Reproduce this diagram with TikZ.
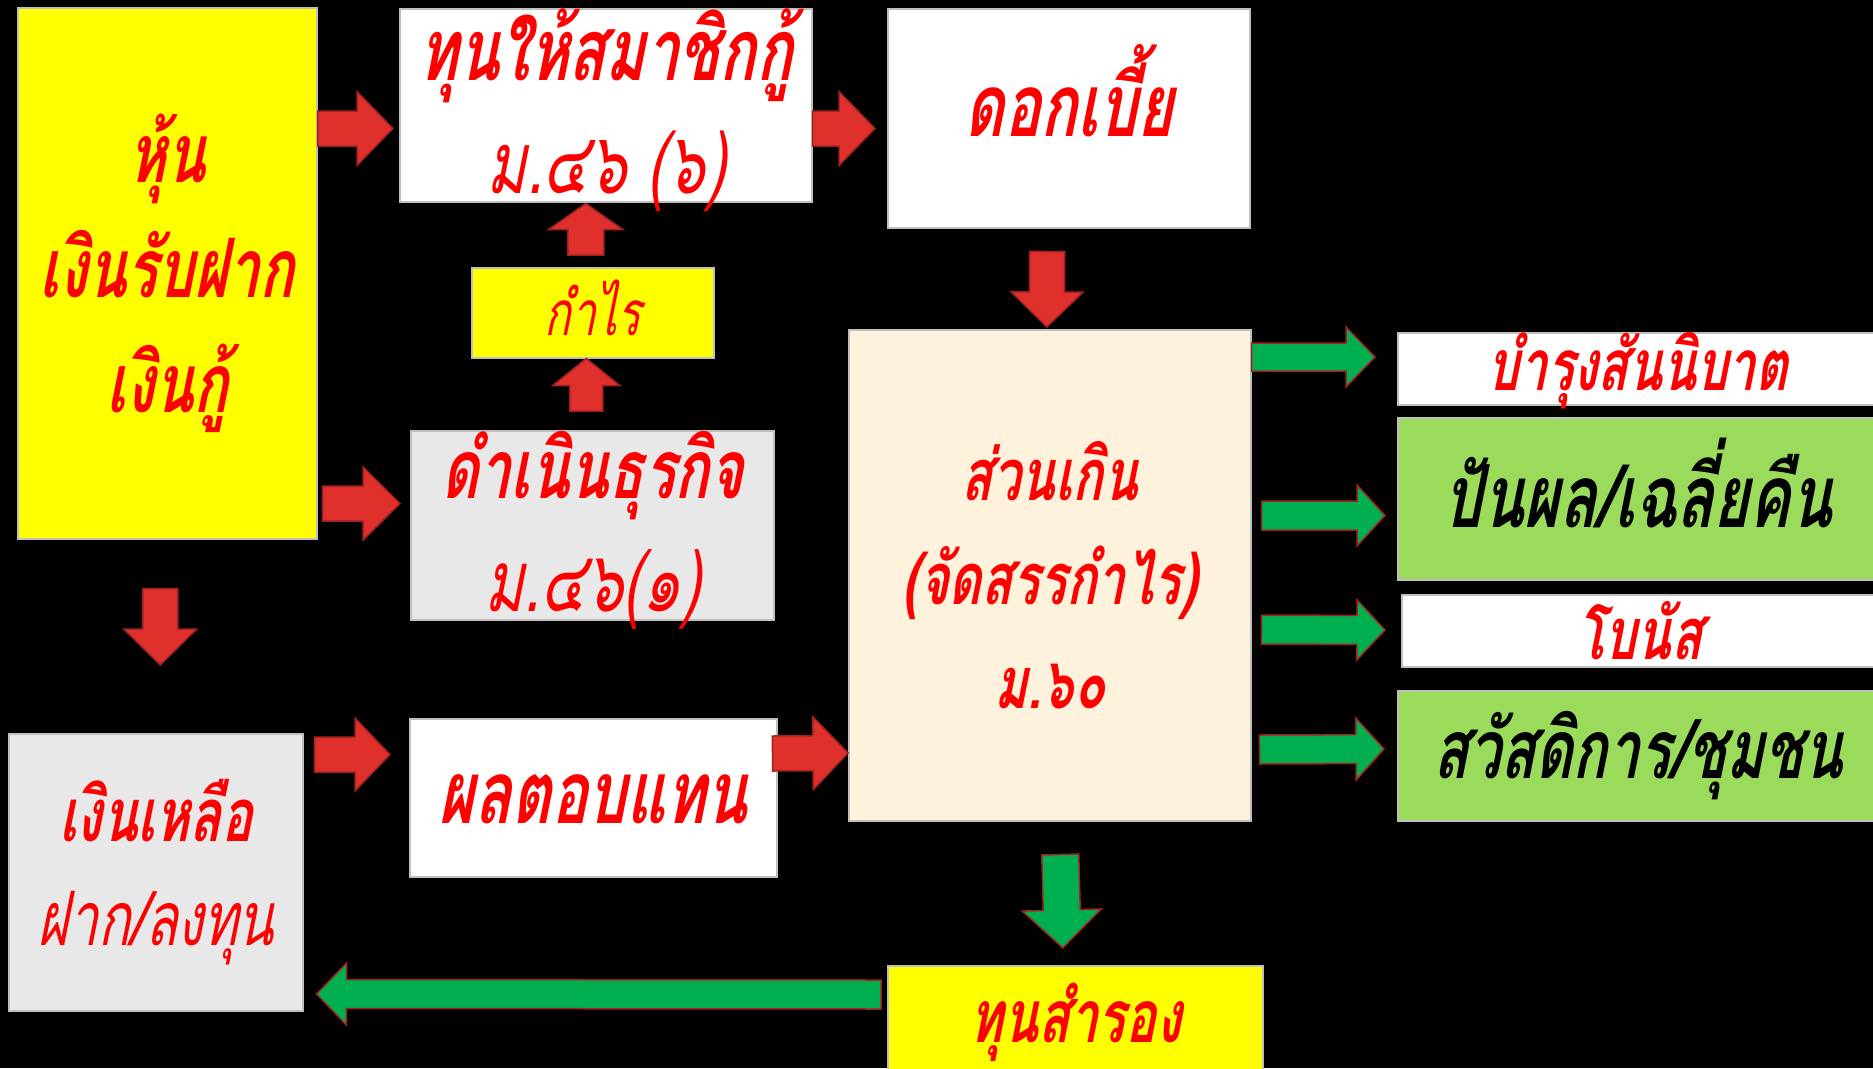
\documentclass[tikz,border=0pt]{standalone}
\usepackage{fontspec}
\usetikzlibrary{calc}
\newfontfamily\thai[Script=Thai,FakeStretch=0.70,FakeSlant=0.2]{Loma}
\definecolor{tred}{HTML}{FF0000}
\definecolor{afill}{HTML}{E0302C}
\definecolor{aline}{HTML}{A02222}
\definecolor{gfill}{HTML}{00B050}
\definecolor{boxgray}{HTML}{E8E8E8}
\definecolor{cream}{HTML}{FFF2DC}
\definecolor{lgreen}{HTML}{9BDB5B}
\definecolor{tyellow}{HTML}{FFFF00}
\newcommand\blockarr[6]{%
  \coordinate (tmphb) at ($(#3)!#6!(#2)$);
  \draw[#1] ($(#2)!#4!90:(#3)$) -- ($(tmphb)!#4!90:(#3)$) -- ($(tmphb)!#5!90:(#3)$) -- (#3)
    -- ($(tmphb)!#5!-90:(#3)$) -- ($(tmphb)!#4!-90:(#3)$) -- ($(#2)!#4!-90:(#3)$) -- cycle;}
\newcommand\fs[2]{\fontsize{#1}{#2}\selectfont}
\tikzset{
  box/.style={draw=black!25, line width=1.5pt, inner sep=0pt, anchor=north west},
  txt/.style={inner sep=0pt, align=center, text=tred},
  redarr/.style={fill=afill, draw=aline, line width=1.5pt, line join=miter},
  grnarr/.style={fill=gfill, draw=aline, line width=1.5pt, line join=miter},
}
\begin{document}
\begin{tikzpicture}[x=1pt,y=-1pt]
\fill[black] (0,0) rectangle (1873,1068);
\useasboundingbox (0,0) rectangle (1873,1068);
% boxes
\node[box, fill=tyellow, minimum width=299, minimum height=531] (A) at (17,7) {};
\node[box, fill=white, minimum width=412, minimum height=193] (B) at (399,8) {};
\node[box, fill=white, minimum width=362, minimum height=219] (C) at (887,8) {};
\node[box, fill=tyellow, minimum width=242, minimum height=90] (D) at (471,267) {};
\node[box, fill=boxgray, minimum width=363, minimum height=189] (E) at (410,430) {};
\node[box, fill=cream, minimum width=402, minimum height=491] (F) at (848,329) {};
\node[box, fill=boxgray, minimum width=294, minimum height=277] (G) at (8,733) {};
\node[box, fill=white, minimum width=367, minimum height=158] (H) at (409,718) {};
\node[box, fill=tyellow, minimum width=375, minimum height=110] (I) at (887,965) {};
\node[box, fill=white, minimum width=480, minimum height=72] (J1) at (1397,332) {};
\node[box, fill=lgreen, minimum width=480, minimum height=162] (J2) at (1397,417) {};
\node[box, fill=white, minimum width=476, minimum height=72] (J3) at (1401,594) {};
\node[box, fill=lgreen, minimum width=480, minimum height=130] (J4) at (1397,690) {};
% texts
\node[txt, font=\thai\bfseries\fs{82}{115}] (At) at (A.center) {หุ้น\\เงินรับฝาก\\เงินกู้};
\node[txt, font=\thai\fs{86}{113}] (Bt) at ($(B.center)+(0,5)$) {{\bfseries ทุนให้สมาชิกกู้}\\ม.๔๖ (๖)};
\node[txt, font=\thai\bfseries\fs{87}{100}] (Ct) at ($(C.center)+(0,-28)$) {ดอกเบี้ย};
\node[txt, font=\thai\fs{62}{70}] (Dt) at ($(D.center)+(0,-5)$) {กำไร};
\node[txt, font=\thai\fs{85}{113}] (Et) at ($(E.center)+(0,5)$) {{\bfseries\fs{82}{113}ดำเนินธุรกิจ}\\ม.๔๖(๑)};
\node[txt, font=\thai\bfseries\fs{72}{104}] (Ft) at (F.center) {ส่วนเกิน\\(จัดสรรกำไร)\\ม.๖๐};
\node[txt, font=\thai\fs{75}{104}] (Gt) at (G.center) {{\bfseries\fs{74}{104}เงินเหลือ}\\ฝาก/ลงทุน};
\node[txt, font=\thai\bfseries\fs{87}{100}] (Ht) at ($(H.center)+(0,2)$) {ผลตอบแทน};
\node[txt, font=\thai\bfseries\fs{73}{80}] (It) at ($(I.center)+(0,2)$) {ทุนสำรอง};
\node[txt, font=\thai\bfseries\fs{71}{80}] (J1t) at ($(J1.center)+(0,2)$) {บำรุงสันนิบาต};
\node[txt, font=\thai\bfseries\fs{87}{100}, text=black] (J2t) at ($(J2.center)+(0,-16)$) {ปันผล/เฉลี่ยคืน};
\node[txt, font=\thai\bfseries\fs{72}{80}] (J3t) at (J3.center) {โบนัส};
\node[txt, font=\thai\bfseries\fs{82}{100}, text=black] (J4t) at (J4.center) {สวัสดิการ/ชุมชน};
% arrow end points
\coordinate (ab1) at ($(A.north east)+(0,121.5)$);
\coordinate (ab2) at ($(B.north west)+(-6,120.5)$);
\coordinate (bc1) at ($(B.north east)+(0,120.5)$);
\coordinate (bc2) at ($(C.north west)+(-12,120.5)$);
\coordinate (ae1) at ($(A.north east)+(5,496.5)$);
\coordinate (ae2) at ($(E.north west)+(-10,73.5)$);
\coordinate (ed1) at ($(E.north)+(-6,-19)$);
\coordinate (ed2) at ($(D.south)+(-6.5,0)$);
\coordinate (db1) at ($(D.north)+(-7,-12)$);
\coordinate (db2) at ($(B.south)+(-20,1)$);
\coordinate (ag1) at ($(A.south)+(-7,49)$);
\coordinate (ag2) at ($(G.north)+(4.5,-68)$);
\coordinate (cf1) at ($(C.south)+(-21.5,23)$);
\coordinate (cf2) at ($(F.north)+(-3,-2)$);
\coordinate (gh1) at ($(G.north east)+(11,21.5)$);
\coordinate (gh2) at ($(H.north west)+(-19,36.5)$);
\coordinate (hf1) at ($(H.north east)+(-5,35.5)$);
\coordinate (hf2) at ($(F.north west)+(0,424)$);
\coordinate (fj11) at ($(F.north east)+(0,28)$);
\coordinate (fj12) at ($(J1.north west)+(-22,25)$);
\coordinate (fj21) at ($(F.north east)+(10,186.5)$);
\coordinate (fj22) at ($(J2.north west)+(-12,98.5)$);
\coordinate (fj31) at ($(F.north east)+(10,300.5)$);
\coordinate (fj32) at ($(J3.north west)+(-16,36)$);
\coordinate (fj41) at ($(F.north east)+(8,420.5)$);
\coordinate (fj42) at ($(J4.north west)+(-13,59)$);
\coordinate (fi1) at ($(F.south)+(10.5,33)$);
\coordinate (fi2) at ($(I.north)+(-12.5,-17)$);
\coordinate (ig1) at ($(I.north west)+(-6,29.5)$);
\coordinate (ig2) at ($(G.north east)+(13,261)$);
% arrows
\blockarr{redarr}{ab1}{ab2}{17.5pt}{37pt}{36pt}
\blockarr{redarr}{bc1}{bc2}{17.5pt}{37pt}{36pt}
\blockarr{redarr}{ae1}{ae2}{17.5pt}{36.5pt}{37pt}
\blockarr{redarr}{ed1}{ed2}{16.5pt}{33.5pt}{27pt}
\blockarr{redarr}{db1}{db2}{18pt}{37pt}{26pt}
\blockarr{redarr}{ag1}{ag2}{17.5pt}{36.5pt}{36pt}
\blockarr{redarr}{cf1}{cf2}{17.5pt}{36pt}{35pt}
\blockarr{redarr}{gh1}{gh2}{17.5pt}{36.5pt}{35pt}
\blockarr{redarr}{hf1}{hf2}{17.5pt}{36.5pt}{35pt}
\blockarr{grnarr}{fj11}{fj12}{14pt}{30pt}{29pt}
\blockarr{grnarr}{fj21}{fj22}{14.5pt}{30.5pt}{28pt}
\blockarr{grnarr}{fj31}{fj32}{14.5pt}{30pt}{28pt}
\blockarr{grnarr}{fj41}{fj42}{14.5pt}{31pt}{28pt}
\blockarr{grnarr}{fi1}{fi2}{18.5pt}{39.5pt}{38pt}
\blockarr{grnarr}{ig1}{ig2}{14.5pt}{31pt}{30pt}
\end{tikzpicture}
\end{document}
